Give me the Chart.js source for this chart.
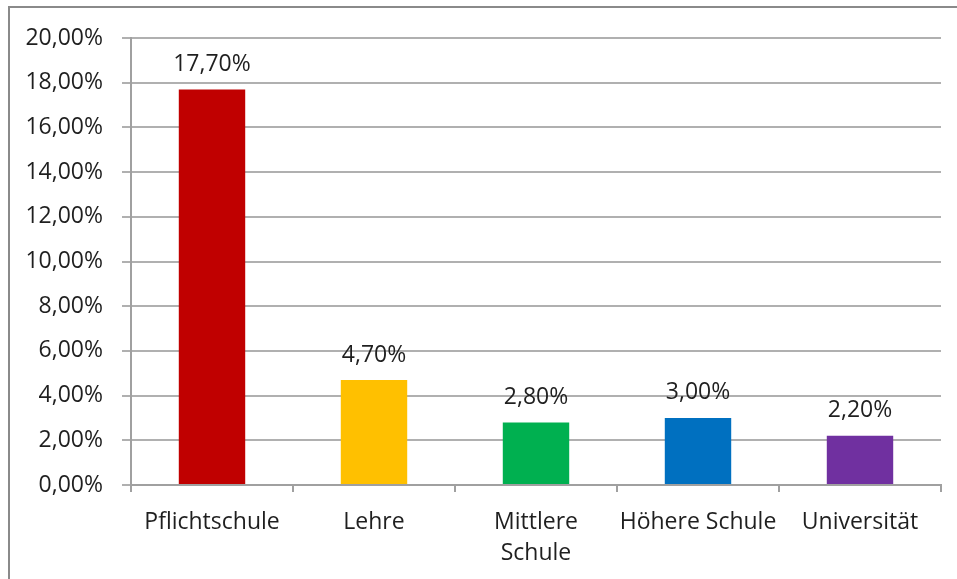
<!DOCTYPE html>
<html>
<head>
<meta charset="utf-8">
<script src="https://cdn.jsdelivr.net/npm/chart.js@4/dist/chart.umd.min.js"></script>
<style>
  html, body { margin: 0; padding: 0; background: #fff; }
  #wrap { position: relative; width: 957px; height: 579px; }
</style>
</head>
<body>
<div id="wrap"><canvas id="myChart" width="957" height="579"></canvas></div>
<script>
const categories = ["Pflichtschule", "Lehre", ["Mittlere", "Schule"], "Höhere Schule", "Universität"];
const values = [17.7, 4.7, 2.8, 3.0, 2.2];
const barColors = ["#C00000", "#FFC000", "#00B050", "#0070C0", "#7030A0"];
const yMax = 20;
const yStep = 2;

const fmt = (v) => v.toFixed(2).replace(".", ",") + "%";
const fontFamily = "'Open Sans', 'Noto Sans', sans-serif";

// grey frame (top + left edges, like the cropped screenshot)
const framePlugin = {
  id: "frame",
  beforeDraw(chart) {
    const ctx = chart.ctx;
    ctx.save();
    ctx.strokeStyle = "#8a8a8a";
    ctx.lineWidth = 2;
    ctx.beginPath();
    ctx.moveTo(9, 579);
    ctx.lineTo(9, 7);
    ctx.lineTo(957, 7);
    ctx.stroke();
    ctx.restore();
  }
};

// value labels above bars
const valueLabels = {
  id: "valueLabels",
  afterDatasetsDraw(chart) {
    const ctx = chart.ctx;
    const meta = chart.getDatasetMeta(0);
    ctx.save();
    ctx.font = "23px " + fontFamily;
    ctx.fillStyle = "#1f1f1f";
    ctx.textAlign = "center";
    ctx.textBaseline = "middle";
    meta.data.forEach((bar, i) => {
      ctx.fillText(fmt(values[i]), bar.x, bar.y - 25);
    });
    ctx.restore();
  }
};

const myChartRef = document.getElementById("myChart").getContext("2d");

new Chart(myChartRef, {
  type: "bar",
  data: {
    labels: categories,
    datasets: [
      {
        data: values,
        backgroundColor: barColors,
        borderWidth: 0,
        categoryPercentage: 1,
        barPercentage: 0.41
      }
    ]
  },
  options: {
    responsive: false,
    animation: false,
    layout: { padding: { top: 38, right: 16, left: 0, bottom: 0 } },
    plugins: {
      legend: { display: false },
      tooltip: { enabled: false }
    },
    scales: {
      x: {
        offset: true,
        grid: {
          offset: true,
          drawOnChartArea: false,
          drawTicks: true,
          tickLength: 7,
          color: "#a0a0a0",
          lineWidth: 2
        },
        border: { color: "#a0a0a0", width: 2 },
        ticks: {
          color: "#1f1f1f",
          padding: 15,
          maxRotation: 0,
          autoSkip: false,
          font: { family: fontFamily, size: 23, lineHeight: 1.35 }
        },
        afterFit(scale) { scale.height = 94; }
      },
      y: {
        min: 0,
        max: yMax,
        ticks: {
          stepSize: yStep,
          color: "#1f1f1f",
          padding: 19,
          font: { family: fontFamily, size: 23 },
          callback: (v) => fmt(v)
        },
        grid: {
          color: "#b0b0b0",
          lineWidth: 2,
          tickLength: 9
        },
        border: { color: "#a0a0a0", width: 2 },
        afterFit(scale) { scale.width = 131; }
      }
    }
  },
  plugins: [framePlugin, valueLabels]
});
</script>
</body>
</html>
